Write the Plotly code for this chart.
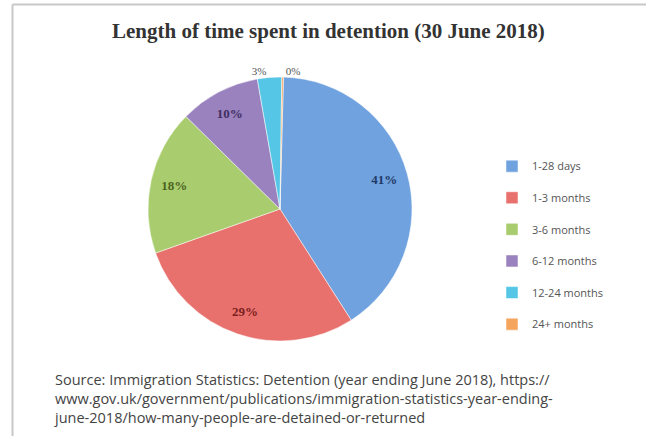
import plotly.graph_objects as go

categories = ["1-28 days", "1-3 months", "3-6 months", "6-12 months", "12-24 months", "24+ months"]
values = [41, 29, 18, 10, 3, 0.2]
slice_colors = ["#6FA2DE", "#E8716D", "#A9CD6E", "#9A82BE", "#56C6E6", "#F6A55E"]
text_colors = ["#1F3A66", "#7B2020", "#4C6322", "#3F2F63", "#555555", "#555555"]
text_positions = ["inside", "inside", "inside", "inside", "outside", "outside"]

title_text = "Length of time spent in detention (30 June 2018)"
source_lines = [
    "Source: Immigration Statistics: Detention (year ending June 2018), https://",
    "www.gov.uk/government/publications/immigration-statistics-year-ending-",
    "june-2018/how-many-people-are-detained-or-returned",
]

W, H = 646, 436
pie_domain = dict(x=[148 / W, 412 / W], y=[1 - 341 / H, 1 - 77 / H])

legend_labels = [c + "<br> " for c in categories]

fig = go.Figure()
# coloured slices + legend
fig.add_trace(go.Pie(
    labels=legend_labels,
    values=values,
    sort=False,
    direction="clockwise",
    rotation=1.5,
    marker=dict(colors=slice_colors, line=dict(color="white", width=0.5)),
    textinfo="none",
    domain=pie_domain,
    hoverinfo="label+percent",
    automargin=False,
))
# transparent ring carrying the percentage labels nearer the rim
fig.add_trace(go.Pie(
    labels=legend_labels,
    values=values,
    sort=False,
    direction="clockwise",
    rotation=1.5,
    hole=0.64,
    marker=dict(colors=["rgba(0,0,0,0)"] * len(values), line=dict(width=0)),
    texttemplate="%{percent:.0%}",
    textposition=text_positions,
    insidetextorientation="horizontal",
    insidetextfont=dict(family="Liberation Serif", size=13, color=text_colors, weight="bold"),
    outsidetextfont=dict(family="Liberation Serif", size=11, color="#555555"),
    domain=pie_domain,
    showlegend=False,
    hoverinfo="skip",
    automargin=False,
))

fig.update_layout(
    width=W, height=H,
    margin=dict(l=0, r=0, t=0, b=0),
    paper_bgcolor="white",
    plot_bgcolor="white",
    showlegend=True,
    legend=dict(
        x=492 / W, xanchor="left",
        y=1 - 152.5 / H, yanchor="top",
        font=dict(family="Open Sans", size=11, color="#555555"),
        valign="top",
        itemwidth=30,
        bgcolor="rgba(0,0,0,0)",
    ),
    annotations=[
        dict(text="<b>" + title_text + "</b>", x=328 / W, y=1 - 31 / H, xref="paper", yref="paper",
             xanchor="center", yanchor="middle", showarrow=False,
             font=dict(family="Liberation Serif", size=21, color="#333333")),
        dict(text="<br>".join(source_lines), x=52 / W, y=1 - 368 / H, xref="paper", yref="paper",
             xanchor="left", yanchor="top", align="left", showarrow=False,
             font=dict(family="Open Sans", size=14.5, color="#444444")),
    ],
    shapes=[
        dict(type="line", xref="paper", yref="paper", x0=12.5 / W, x1=12.5 / W, y0=0, y1=1 - 4.5 / H,
             line=dict(color="#C8C8C8", width=2)),
        dict(type="line", xref="paper", yref="paper", x0=12.5 / W, x1=1, y0=1 - 4.5 / H, y1=1 - 4.5 / H,
             line=dict(color="#C8C8C8", width=2)),
    ],
)

fig.write_html("out.html", config={"displayModeBar": False},
               post_script="document.body.style.margin='0';")
